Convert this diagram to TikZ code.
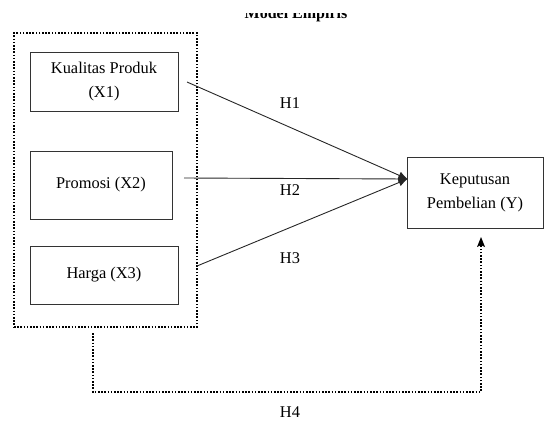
\documentclass[tikz,border=0pt]{standalone}
\usepackage{fontspec}
\setmainfont{Liberation Serif}
\usetikzlibrary{arrows.meta,calc}
\begin{document}
\begin{tikzpicture}[x=1pt,y=-1pt,
  txt/.style={font=\fontsize{16.4}{24.5}\selectfont},
  box/.style={draw=black!80, line width=0.9pt, align=center, inner sep=0pt, txt},
  conn/.style={draw=black!85, line width=0.9pt},
  arr/.style={conn, -{Latex[length=9pt,width=8pt]}},
  dots/.style={draw=black, line width=1.8pt, dash pattern=on 1.6pt off 1.6pt},
  lbl/.style={txt, inner sep=0pt}]
\useasboundingbox (0,0) rectangle (544,421);
% title (cut at top as in reference)
\begin{scope}
\clip (0,13) rectangle (544,30);
\node[font=\fontsize{16}{19}\selectfont\bfseries, anchor=base] (title) at (296,18) {Model Empiris};
\end{scope}
% group
\node[dots, minimum width=183pt, minimum height=294pt, inner sep=0pt] (grp) at (105.5,180) {};
\node[box, minimum width=148pt, minimum height=59pt] (x1) at (104,81.5) {Kualitas Produk\\(X1)};
\node[box, minimum width=142pt, minimum height=68pt] (x2) at (101,185) {Promosi (X2)};
\node[box, minimum width=148pt, minimum height=58pt] (x3) at (104,275) {Harga (X3)};
\node[box, minimum width=136pt, minimum height=71pt] (y) at (475,193) {Keputusan\\Pembelian (Y)};
% connector ends
\coordinate (s1) at (187,82);
\coordinate (s2) at (184,178);
\coordinate (s3) at (197,266);
\coordinate (t) at (407.5,179);
\coordinate (h4s) at (93,333);
\coordinate (h4c) at (93,392);
\coordinate (h4d) at (481,392);
\coordinate (h4e) at (481,237);
\draw[arr] (s1) -- (t);
\draw[arr] (s2) -- (t);
\draw[arr] (s3) -- (t);
\draw[dots] (h4s) -- (h4c) -- (h4d) -- ($(h4e)+(0,8)$);
\fill[black] (h4e) -- ($(h4e)+(-4,10)$) -- ($(h4e)+(0,8)$) -- ($(h4e)+(4,10)$) -- cycle;
% labels
\node[lbl] (l1) at (290,103) {H1};
\node[lbl] (l2) at (290,190) {H2};
\node[lbl] (l3) at (290,258) {H3};
\node[lbl] (l4) at (290,412) {H4};
\end{tikzpicture}
\end{document}
